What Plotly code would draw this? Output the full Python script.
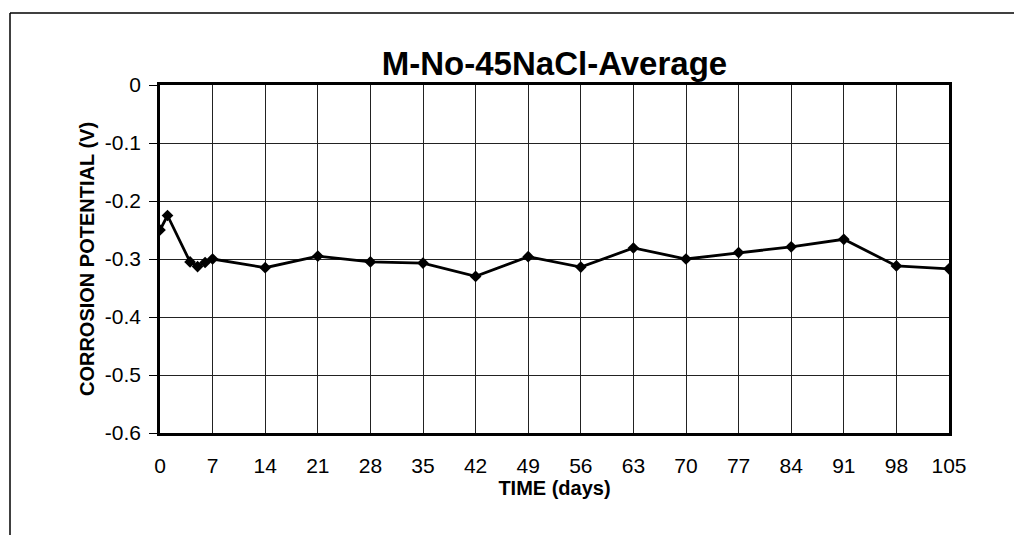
import plotly.graph_objects as go

# Average corrosion potential of M-No-45NaCl specimens over time
days = [0, 1, 4, 5, 6, 7, 14, 21, 28, 35, 42, 49, 56, 63, 70, 77, 84, 91, 98, 105]
potential = [-0.250, -0.225, -0.305, -0.313, -0.306, -0.300, -0.315, -0.295, -0.305,
             -0.307, -0.330, -0.296, -0.314, -0.281, -0.300, -0.289, -0.279, -0.266,
             -0.312, -0.317]

x_ticks = list(range(0, 106, 7))
y_ticks = [0, -0.1, -0.2, -0.3, -0.4, -0.5, -0.6]
y_tick_text = ["0", "-0.1", "-0.2", "-0.3", "-0.4", "-0.5", "-0.6"]

FONT = "Liberation Sans, Arial, sans-serif"

fig = go.Figure()
fig.add_trace(go.Scatter(
    x=days, y=potential, mode="lines+markers",
    line=dict(color="black", width=2.8),
    marker=dict(symbol="diamond", size=9, color="black"),
    showlegend=False,
))

W, H = 1014, 535
L, R, T, B = 160, 65, 85, 102
pw, ph = W - L - R, H - T - B

def px_x(px):
    return (px - L) / pw

def px_y(py):
    return (H - B - py) / ph

# outer frame around the whole chart (top and left edges)
frame = dict(type="line", xref="paper", yref="paper",
             line=dict(color="black", width=1.5))
fig.add_shape(**frame, x0=px_x(10), x1=px_x(1014), y0=px_y(13), y1=px_y(13))
fig.add_shape(**frame, x0=px_x(10), x1=px_x(10), y0=px_y(13), y1=px_y(535))

fig.update_layout(
    width=W, height=H,
    margin=dict(l=L, r=R, t=T, b=B),
    paper_bgcolor="white", plot_bgcolor="white",
    font=dict(family=FONT, color="black"),
    title=dict(text="<b>M-No-45NaCl-Average</b>", x=0.5, xref="paper",
               y=1 - 63 / H, yref="container", yanchor="middle",
               xanchor="center", font=dict(size=33, family=FONT)),
)

fig.update_xaxes(
    range=[0, 105], tickvals=x_ticks, ticktext=[str(v) for v in x_ticks],
    showgrid=True, gridcolor="#222", gridwidth=1,
    showline=True, linecolor="black", linewidth=2.5, mirror=True,
    ticks="", ticklabelstandoff=12, zeroline=False,
    tickfont=dict(size=21, family=FONT),
    title=dict(text="<b>TIME (days)</b>", font=dict(size=20, family=FONT), standoff=4),
)
fig.update_yaxes(
    range=[-0.6, 0], tickvals=y_ticks, ticktext=y_tick_text,
    showgrid=True, gridcolor="#222", gridwidth=1,
    showline=True, linecolor="black", linewidth=2.5, mirror=True,
    ticks="outside", ticklen=8, tickcolor="black", ticklabelstandoff=4,
    zeroline=False,
    tickfont=dict(size=21, family=FONT),
    title=dict(text="<b>CORROSION POTENTIAL (V)</b>", font=dict(size=20, family=FONT),
               standoff=5),
)

fig.write_html("out.html")
